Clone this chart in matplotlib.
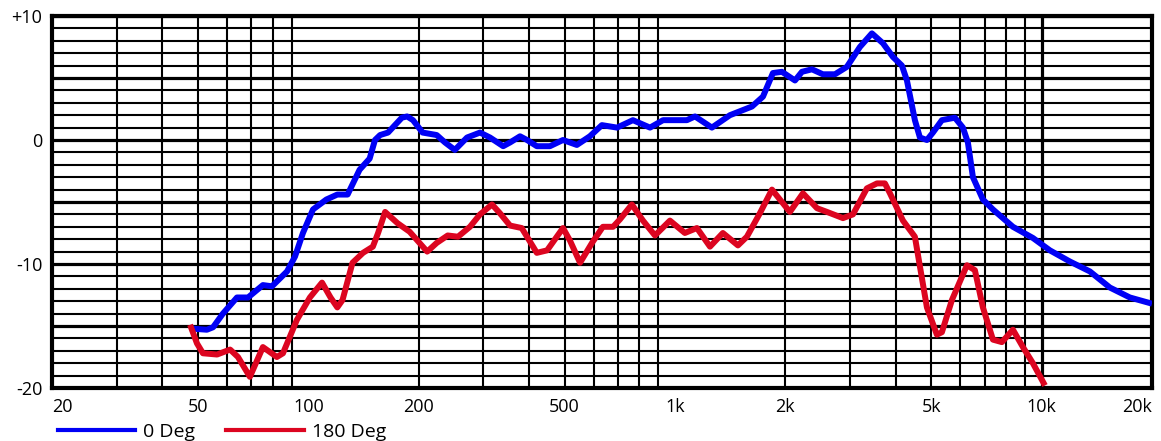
import matplotlib
matplotlib.use("Agg")
import matplotlib.pyplot as plt
from matplotlib.lines import Line2D

# ---- data ----
blue_freq = [47.6, 52.9, 55.0, 58.5, 63.9, 68.5, 75.2, 79.6, 87.5, 92.0, 96.7, 103, 112, 120, 128,
             138, 147, 152, 157, 165, 180, 186, 193, 205, 224, 236, 251, 271, 294, 313, 340, 355,
             378, 395, 420, 456, 495, 540, 586, 632, 695, 768, 855, 928, 1078, 1134, 1261, 1412,
             1622, 1738, 1850, 1958, 2125, 2220, 2364, 2532, 2731, 2944, 3194, 3444, 3692, 3931,
             4159, 4292, 4512, 4657, 4866, 5053, 5346, 5800, 6100, 6294, 6496, 6916, 7366, 8351,
             9466, 10534, 11944, 13540, 15354, 17406, 20000]
blue_db = [-15.2, -15.3, -15.1, -14.0, -12.7, -12.7, -11.7, -11.8, -10.6, -9.4, -7.5, -5.6, -4.8,
           -4.4, -4.4, -2.4, -1.5, 0.0, 0.4, 0.6, 1.8, 1.9, 1.6, 0.6, 0.4, -0.2, -0.8, 0.2, 0.6,
           0.2, -0.5, -0.2, 0.3, 0.0, -0.5, -0.5, 0.0, -0.4, 0.3, 1.2, 1.0, 1.6, 1.0, 1.6, 1.6,
           1.9, 1.0, 2.0, 2.7, 3.5, 5.4, 5.5, 4.8, 5.5, 5.7, 5.3, 5.3, 5.9, 7.5, 8.6, 7.8, 6.7,
           6.0, 4.8, 1.6, 0.2, 0.0, 0.6, 1.6, 1.8, 1.0, -0.2, -3.0, -4.8, -5.6, -7.0, -7.9, -8.9,
           -9.8, -10.6, -11.9, -12.7, -13.2]

red_freq = [47.6, 49.7, 51.6, 56.4, 61.2, 64.3, 69.3, 75.2, 82.1, 85.3, 93.1, 101, 109, 115, 120,
            124, 132, 141, 150, 155, 162, 175, 189, 211, 224, 240, 256, 276, 294, 317, 333, 355,
            382, 420, 448, 495, 517, 551, 594, 636, 678, 708, 763, 818, 882, 969, 1064, 1148,
            1246, 1351, 1485, 1571, 1705, 1839, 2058, 2234, 2440, 2598, 2872, 3058, 3338, 3556,
            3738, 3858, 4186, 4512, 4657, 4866, 5180, 5346, 5694, 6256, 6577, 6916, 7366, 7792,
            8351, 8892, 9466, 10212]
red_db = [-14.9, -16.4, -17.2, -17.3, -16.9, -17.5, -19.1, -16.7, -17.5, -17.2, -14.5, -12.7,
          -11.5, -12.7, -13.5, -12.9, -9.9, -9.1, -8.6, -7.5, -5.8, -6.7, -7.4, -9.0, -8.3, -7.7,
          -7.8, -7.0, -6.0, -5.2, -5.9, -6.9, -7.1, -9.1, -8.9, -7.1, -8.1, -9.9, -8.3, -7.0,
          -7.0, -6.4, -5.2, -6.5, -7.7, -6.5, -7.5, -7.1, -8.6, -7.5, -8.5, -7.8, -5.9, -4.0,
          -5.8, -4.3, -5.5, -5.8, -6.3, -6.0, -3.9, -3.5, -3.5, -4.3, -6.5, -7.8, -10.2, -13.5,
          -15.7, -15.5, -12.9, -10.1, -10.5, -13.5, -16.1, -16.3, -15.3, -16.7, -18.0, -19.8]

series_labels = ["0 Deg", "180 Deg"]
series_colors = ["#0000f5", "#dc0520"]

xtick_vals = [20, 50, 100, 200, 500, 1000, 2000, 5000, 10000, 20000]
xtick_labels = ["20", "50", "100", "200", "500", "1k", "2k", "5k", "10k", "20k"]
ytick_vals = [-20, -10, 0, 10]
ytick_labels = ["-20", "-10", "0", "+10"]

vgrid = [m * d for d in (10, 100, 1000) for m in range(2, 10)] + [10000, 20000]
vgrid_major = [100, 1000, 10000]
hgrid = list(range(-20, 11))

plt.rcParams['font.family'] = ['Open Sans', 'DejaVu Sans']

fig = plt.figure(figsize=(11.61, 4.41), dpi=100)
ax = fig.add_axes([52 / 1161, 1 - 388 / 441, 1100 / 1161, 372 / 441])
ax.set_xscale('log')
ax.set_xlim(20, 20000)
ax.set_ylim(-20, 10)

for v in hgrid:
    ax.axhline(v, color='black', lw=2.3 if v % 5 == 0 else 1.5, zorder=1)
for v in vgrid:
    ax.axvline(v, color='black', lw=2.3 if v in vgrid_major else 1.5, zorder=1)

ax.plot(blue_freq, blue_db, color=series_colors[0], lw=4.3, solid_joinstyle='round',
        solid_capstyle='butt', zorder=3, label=series_labels[0])
ax.plot(red_freq, red_db, color=series_colors[1], lw=4.3, solid_joinstyle='round',
        solid_capstyle='butt', zorder=3, label=series_labels[1])

for s in ax.spines.values():
    s.set_linewidth(3.0)
    s.set_color('black')

ax.set_xticks(xtick_vals)
ax.set_xticklabels(xtick_labels)
ax.xaxis.set_minor_locator(matplotlib.ticker.NullLocator())
ax.set_yticks(ytick_vals)
ax.set_yticklabels(ytick_labels)
ax.tick_params(length=0, labelsize=13, pad=7)
ax.tick_params(axis='y', pad=7)
xl = ax.get_xticklabels()
xl[0].set_ha('left')
xl[-1].set_ha('right')

handles = [Line2D([], [], color=c, lw=3.0) for c in series_colors]
fig.legend(handles, series_labels, loc='lower left', bbox_to_anchor=(44 / 1161, -0.03),
           ncol=2, frameon=False, fontsize=14, handlelength=4.0, handletextpad=0.4,
           columnspacing=1.6, borderpad=0.2)

fig.savefig("out.png", dpi=100)
